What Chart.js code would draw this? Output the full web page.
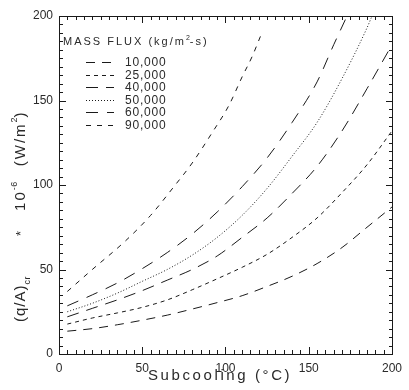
<!DOCTYPE html>
<html>
<head>
<meta charset="utf-8">
<script src="https://cdn.jsdelivr.net/npm/chart.js@4/dist/chart.umd.min.js"></script>
<style>
html,body{margin:0;padding:0;background:#fff;}
#wrap{width:409px;height:390px;position:relative;}
</style>
</head>
<body>
<div id="wrap"><canvas id="chf"></canvas></div>
<script>
// critical heat flux vs subcooling, one curve per mass flux
var fluxLabels = ["10,000","25,000","40,000","50,000","60,000","90,000"];

var sub10 = [5,20,35,50,65,80,95,110,125,140,155,170,185,200];
var chf10 = [13.5,15,17.3,20,23,26.6,30.4,34.5,40,46,53.5,63,75,87];

var sub25 = [5,20,35,50,65,80,95,110,125,140,155,170,185,200];
var chf25 = [17.7,21.3,24.3,27.6,32,38,44.5,51.3,59,69,80.5,95.5,112,132];

var sub40 = [5,20,35,50,65,80,95,110,125,140,155,170,185,200];
var chf40 = [22,27,32,37.5,43.7,50,58,69,80.5,95,111,132,157,183];

var sub50 = [5,20,35,50,65,80,95,110,125,140,155,170,185,188];
var chf50 = [25,30,36,43,50,58.5,69,82,98,117,137,163,193,200];

var sub60 = [5,20,35,50,65,80,95,110,125,140,155,165,173];
var chf60 = [28.5,35,42,50.5,60,71,84,99,116,137,161,183,200];

var sub90 = [5,20,40,55,69,80,92,102,110,116,121];
var chf90 = [37,50,67,82,99,113,131,147,164,176,188];

var xTicks = [0,50,100,150,200];
var yTicks = [0,50,100,150,200];

var ink = "#1a1a1a";
var textInk = "#2a2a2a";

function pts(xs, ys){
	var out=[];
	for(var i=0;i<xs.length;i++){
		out.push({x:xs[i], y:ys[i]});
	}
	return out;
}

function curve(label, xs, ys, dash){
	return {
		label: label,
		data: pts(xs, ys),
		borderColor: ink,
		borderWidth: 1,
		borderDash: dash,
		pointRadius: 0,
		showLine: true,
		fill: false,
		cubicInterpolationMode: 'monotone'
	};
}

// draw a run of text pieces (with sub/superscripts) along the current x direction
function drawPieces(ctx, pieces){
	var pos=0;
	for(var k=0;k<pieces.length;k++){
		var p=pieces[k];
		if(p.gap){ pos+=p.gap; continue; }
		ctx.font = p.size+"px 'Liberation Sans'";
		ctx.letterSpacing = (p.ls||0)+"px";
		ctx.fillText(p.t, pos, p.dy||0);
		pos+=ctx.measureText(p.t).width;
	}
	ctx.letterSpacing = "0px";
}

// pixel for a value on a scale, falling back to the chart area span
function pixelOf(scale, v, lo, hi){
	var p=scale.getPixelForValue(v);
	if(!isFinite(p)){ p = lo + (hi-lo)*(v-scale.min)/(scale.max-scale.min); }
	return Math.round(p);
}

// box round the plot with inward ticks on all four sides
var boxPlugin = {
	id: 'box',
	afterDraw: function(chart){
		var ctx=chart.ctx, a=chart.chartArea;
		var xs=chart.scales.x, ys=chart.scales.y;
		var L=Math.round(a.left), R=Math.round(a.right), T=Math.round(a.top), B=Math.round(a.bottom);
		ctx.save();
		ctx.globalAlpha=1;
		ctx.globalCompositeOperation='source-over';
		ctx.fillStyle=ink;
		ctx.fillRect(L, T, R-L+1, 1);
		ctx.fillRect(L, B, R-L+1, 1);
		ctx.fillRect(L, T, 1, B-T+1);
		ctx.fillRect(R, T, 1, B-T+1);
		// majors every 50, minors every 5
		for(var v=0; v<=200; v+=5){
			var len = (v%50==0) ? 7 : 4;
			var px=pixelOf(xs, v, L, R);
			ctx.fillRect(px, B-len, 1, len);
			ctx.fillRect(px, T, 1, len);
			var py=pixelOf(ys, v, B, T);
			ctx.fillRect(L, py, len, 1);
			ctx.fillRect(R-len+1, py, len, 1);
		}
		ctx.restore();
	}
};

function drawLabel(ctx, text, x, y){
	ctx.save();
	ctx.translate(x, y);
	drawPieces(ctx, [{t:text, size:12, ls:0.8}]);
	ctx.restore();
}

// in-plot legend and the two axis titles
var textPlugin = {
	id: 'texts',
	afterDraw: function(chart){
		var ctx=chart.ctx, a=chart.chartArea;
		ctx.save();
		ctx.strokeStyle=ink;
		ctx.lineWidth=1;
		ctx.fillStyle=textInk;
		ctx.textBaseline='middle';
		ctx.textAlign='left';
		ctx.save();
		ctx.translate(Math.round(a.left)+4, 42);
		drawPieces(ctx, [
			{t:'MASS FLUX (kg/m', size:11, ls:2},
			{t:'2', size:7, dy:-4},
			{t:'-s)', size:11, ls:2}
		]);
		ctx.restore();
		var sets=chart.data.datasets;
		for(var i=0;i<sets.length;i++){
			var ry=Math.round(62+i*12.6)+0.5;
			ctx.setLineDash(sets[i].borderDash);
			ctx.beginPath();
			ctx.moveTo(86, ry); ctx.lineTo(114, ry);
			ctx.stroke();
			ctx.setLineDash([]);
			drawLabel(ctx, sets[i].label, 125, ry);
		}

		// x title
		ctx.save();
		ctx.textBaseline='alphabetic';
		ctx.translate(148, 380);
		drawPieces(ctx, [{t:'Subcooling (°C)', size:15, ls:2.6}]);
		ctx.restore();

		// y title, rotated
		ctx.save();
		ctx.textBaseline='alphabetic';
		ctx.translate(25, 322);
		ctx.rotate(-Math.PI/2);
		drawPieces(ctx, [
			{t:'(q/A)', size:15, ls:1},
			{t:'cr', size:9, dy:5, ls:0.5},
			{gap:40},
			{t:'*', size:13},
			{gap:20},
			{t:'10', size:15, ls:2},
			{t:'-6', size:9, dy:-8, ls:0.5},
			{gap:15},
			{t:'(W/m', size:15, ls:2},
			{t:'2', size:9, dy:-8},
			{t:')', size:15}
		]);
		ctx.restore();
		ctx.restore();
	}
};

var chfChart = new Chart(document.getElementById("chf").getContext('2d'),{
	type:'scatter',
	data:{
		datasets:[
			curve(fluxLabels[0], sub10, chf10, [9,7]),
			curve(fluxLabels[1], sub25, chf25, [4,4]),
			curve(fluxLabels[2], sub40, chf40, [12,8]),
			curve(fluxLabels[3], sub50, chf50, [1,2]),
			curve(fluxLabels[4], sub60, chf60, [12,9]),
			curve(fluxLabels[5], sub90, chf90, [5,6])
		]
	},
	options:{
		responsive:true,
		maintainAspectRatio:false,
		animation:false,
		layout:{padding:{top:16,right:14,left:0,bottom:0}},
		plugins:{
			legend:{display:false},
			tooltip:{enabled:false}
		},
		scales:{
			x:{
				type:'linear', min:0, max:200,
				grid:{display:false, drawTicks:false},
				border:{display:false},
				afterBuildTicks:function(s){ s.ticks=xTicks.map(function(v){return {value:v};}); },
				afterFit:function(s){ s.height=36; },
				ticks:{color:textInk, padding:7, maxRotation:0, font:{family:'Liberation Sans', size:12}}
			},
			y:{
				type:'linear', min:0, max:200,
				grid:{display:false, drawTicks:false},
				border:{display:false},
				afterBuildTicks:function(s){ s.ticks=yTicks.map(function(v){return {value:v};}); },
				afterFit:function(s){ s.width=59; },
				ticks:{color:textInk, padding:6, font:{family:'Liberation Sans', size:12}}
			}
		}
	},
	plugins:[boxPlugin, textPlugin]
});
</script>
</body>
</html>
